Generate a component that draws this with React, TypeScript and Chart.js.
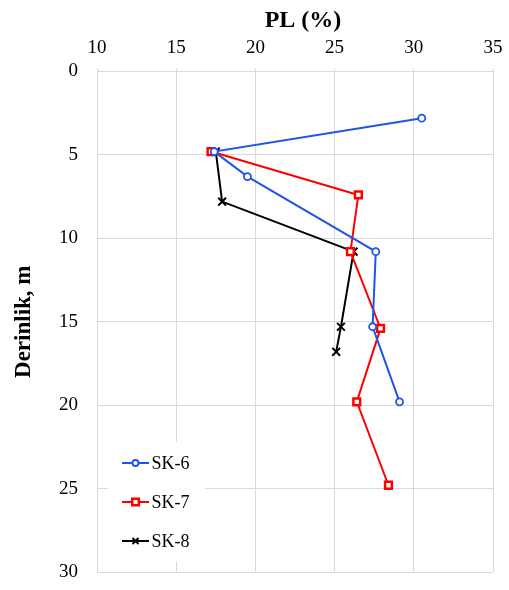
import React, { useEffect, useRef } from "react";
import { Chart, registerables } from "chart.js";

Chart.register(...registerables);

// Plastic limit (%) against depth (m) for three boreholes
const sk6PL = [30.5, 17.4, 19.5, 27.6, 27.4, 29.1];
const sk6Depth = [2.8, 4.8, 6.3, 10.8, 15.3, 19.8];

const sk7PL = [17.2, 26.5, 26.0, 27.9, 26.4, 28.4];
const sk7Depth = [4.8, 7.4, 10.8, 15.4, 19.8, 24.8];

const sk8PL = [17.5, 17.9, 26.2, 25.4, 25.1];
const sk8Depth = [4.8, 7.8, 10.8, 15.3, 16.8];

const seriesNames = ["SK-6", "SK-7", "SK-8"];
const seriesColors = ["#1f55e6", "#ff0000", "#000000"];

const xTitle = "PL (%)";
const yTitle = "Derinlik, m";

const SERIF = "'Liberation Serif', 'Times New Roman', serif";
const GRID = "#d9d9d9";

const toPoints = (xs: number[], ys: number[]) => xs.map((x, i) => ({ x, y: ys[i] }));

// Draws a legend marker in the same style as the series points
function drawMarker(ctx: CanvasRenderingContext2D, style: string, x: number, y: number, color: string) {
  ctx.save();
  ctx.strokeStyle = color;
  ctx.fillStyle = "#ffffff";
  if (style === "circle") {
    ctx.lineWidth = 1.8;
    ctx.beginPath();
    ctx.arc(x, y, 3, 0, Math.PI * 2);
    ctx.fill();
    ctx.stroke();
  } else if (style === "rect") {
    ctx.lineWidth = 2.5;
    ctx.beginPath();
    ctx.rect(x - 3.3, y - 3.3, 6.6, 6.6);
    ctx.fill();
    ctx.stroke();
  } else {
    ctx.lineWidth = 2;
    const s = 3;
    ctx.beginPath();
    ctx.moveTo(x - s, y - s);
    ctx.lineTo(x + s, y + s);
    ctx.moveTo(x - s, y + s);
    ctx.lineTo(x + s, y - s);
    ctx.stroke();
  }
  ctx.restore();
}

const legendPlugin = {
  id: "insetLegend",
  beforeDatasetsDraw(chart: any) {
    const { ctx, chartArea } = chart;
    const boxLeft = chartArea.left + 11;
    const boxTop = chartArea.bottom - 130;
    ctx.save();
    ctx.fillStyle = "#ffffff";
    ctx.fillRect(boxLeft, boxTop, 97, 120);
    chart.data.datasets.forEach((ds: any, i: number) => {
      const rowY = boxTop + 21 + i * 39;
      const x0 = boxLeft + 14;
      const x1 = boxLeft + 41;
      ctx.strokeStyle = ds.borderColor;
      ctx.lineWidth = 2;
      ctx.beginPath();
      ctx.moveTo(x0, rowY);
      ctx.lineTo(x1, rowY);
      ctx.stroke();
      drawMarker(ctx, ds.pointStyle, (x0 + x1) / 2, rowY, ds.borderColor);
      ctx.fillStyle = "#000000";
      ctx.font = `18px ${SERIF}`;
      ctx.textAlign = "left";
      ctx.textBaseline = "middle";
      ctx.fillText(ds.label, x1 + 2.5, rowY + 1);
    });
    ctx.restore();
  },
  afterDraw(chart: any) {
    const { ctx } = chart;
    ctx.save();
    ctx.fillStyle = "#000000";
    ctx.font = `bold 24px ${SERIF}`;
    ctx.textAlign = "center";
    ctx.textBaseline = "alphabetic";
    ctx.fillText(xTitle, 303, 27);
    ctx.restore();
  },
};

export default function App() {
  const canvasRef = useRef<HTMLCanvasElement | null>(null);

  useEffect(() => {
    const canvas = canvasRef.current;
    if (!canvas) return;

    const common = { borderWidth: 2, showLine: true, pointHoverRadius: 5 };

    const chart = new Chart(canvas, {
      type: "scatter",
      data: {
        datasets: [
          {
            ...common,
            label: seriesNames[0],
            data: toPoints(sk6PL, sk6Depth),
            borderColor: seriesColors[0],
            backgroundColor: "#ffffff",
            pointStyle: "circle",
            pointRadius: 3.5,
            pointBorderWidth: 1.8,
          },
          {
            ...common,
            label: seriesNames[1],
            data: toPoints(sk7PL, sk7Depth),
            borderColor: seriesColors[1],
            backgroundColor: "#ffffff",
            pointStyle: "rect",
            pointRadius: 4.8,
            pointBorderWidth: 2.5,
          },
          {
            ...common,
            label: seriesNames[2],
            data: toPoints(sk8PL, sk8Depth),
            borderColor: seriesColors[2],
            backgroundColor: "#000000",
            pointStyle: "crossRot",
            pointRadius: 5.5,
            pointBorderWidth: 2,
          },
        ],
      },
      options: {
        responsive: false,
        animation: false,
        devicePixelRatio: 1,
        layout: { padding: { left: 0, top: 0, right: 16, bottom: 18 } },
        plugins: {
          legend: { display: false },
          tooltip: { enabled: false },
        },
        scales: {
          x: {
            type: "linear",
            position: "top",
            min: 10,
            max: 35,
            ticks: {
              stepSize: 5,
              color: "#000000",
              padding: 3,
              font: { family: SERIF, size: 19, lineHeight: 1.88 },
            },
            grid: { color: GRID, lineWidth: 1, drawTicks: true, tickLength: 3, tickColor: GRID },
            border: { color: GRID, width: 1 },
            afterFit(scale: any) {
              scale.height = 71.5;
            },
          },
          y: {
            type: "linear",
            reverse: true,
            min: 0,
            max: 30,
            ticks: {
              stepSize: 5,
              color: "#000000",
              padding: 0,
              font: { family: SERIF, size: 19 },
            },
            grid: { color: GRID, lineWidth: 1, drawTicks: true, tickLength: 19, tickColor: "rgba(0,0,0,0)" },
            border: { color: GRID, width: 1 },
            title: {
              display: true,
              text: yTitle,
              color: "#000000",
              font: { family: SERIF, size: 23, weight: "bold", lineHeight: 1.2 },
              padding: { top: 10, bottom: 0 },
            },
            afterFit(scale: any) {
              scale.width = 97;
            },
          },
        },
      },
      plugins: [legendPlugin],
    });

    return () => chart.destroy();
  }, []);

  return (
    <div style={{ position: "fixed", left: 0, top: 0, width: 509, height: 590, background: "#ffffff" }}>
      <canvas ref={canvasRef} width={509} height={590} />
    </div>
  );
}
